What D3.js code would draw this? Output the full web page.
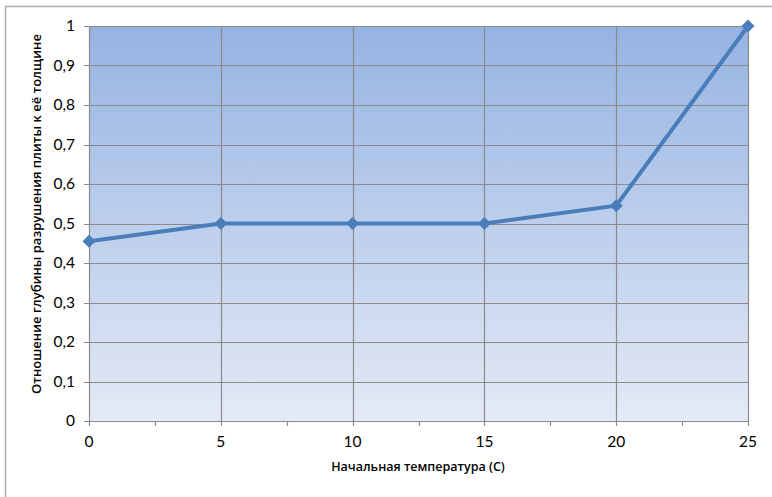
<!DOCTYPE html>
<html><head><meta charset="utf-8">
<script src="https://cdn.jsdelivr.net/npm/d3@7"></script>
<style>body{margin:0;background:#fff}</style>
</head><body>
<svg id="c" width="772" height="497"></svg>
<script>
const temps = [0, 5, 10, 15, 20, 25];
const ratios = [0.455, 0.5, 0.5, 0.5, 0.545, 1];
const yTicks = [0,0.1,0.2,0.3,0.4,0.5,0.6,0.7,0.8,0.9,1];
const xTicks = [0,5,10,15,20,25];
const xMinor = [2.5,7.5,12.5,17.5,22.5];
const xTitle = "Начальная температура (С)";
const yTitle = "Отношение глубины разрушения плиты к её толщине";

const svg = d3.select("#c");
const L=89,R=748,T=26,B=421;
const x = d3.scaleLinear().domain([0,25]).range([L,R]);
const y = d3.scaleLinear().domain([0,1]).range([B,T]);
const fmt = d => String(d).replace(".", ",");

svg.append("rect").attr("x",5.5).attr("y",6.5).attr("width",800).attr("height",800)
  .attr("fill","#fff").attr("stroke","#b0b0b0").attr("stroke-width",1.5);

const defs = svg.append("defs");
const g = defs.append("linearGradient").attr("id","bg").attr("x1",0).attr("y1",0).attr("x2",0).attr("y2",1);
g.append("stop").attr("offset","0%").attr("stop-color","#95b3e2");
g.append("stop").attr("offset","100%").attr("stop-color","#e4eaf6");
svg.append("rect").attr("x",L).attr("y",T).attr("width",R-L).attr("height",B-T).attr("fill","url(#bg)");

// grid
svg.append("g").selectAll("line").data(yTicks).join("line")
  .attr("x1",L-5).attr("x2",R).attr("y1",d=>Math.round(y(d))+0.5).attr("y2",d=>Math.round(y(d))+0.5)
  .attr("stroke","#8a8a8a").attr("stroke-width",1.2);
svg.append("g").selectAll("line").data(xTicks).join("line")
  .attr("y1",T).attr("y2",B+5).attr("x1",d=>Math.round(x(d))+0.5).attr("x2",d=>Math.round(x(d))+0.5)
  .attr("stroke","#8a8a8a").attr("stroke-width",1.2);
svg.append("g").selectAll("line").data(xMinor).join("line")
  .attr("y1",B).attr("y2",B+5).attr("x1",d=>Math.round(x(d))+0.5).attr("x2",d=>Math.round(x(d))+0.5)
  .attr("stroke","#8a8a8a").attr("stroke-width",1.2);

// tick labels
svg.append("g").selectAll("text").data(yTicks).join("text")
  .attr("x",75).attr("y",d=>y(d)).attr("dy","0.35em").attr("text-anchor","end")
  .attr("font-family","Lato, sans-serif").attr("font-size",15.5).attr("fill","#000").text(fmt);
svg.append("g").selectAll("text").data(xTicks).join("text")
  .attr("x",d=>x(d)).attr("y",447).attr("text-anchor","middle")
  .attr("font-family","Lato, sans-serif").attr("font-size",15.5).attr("fill","#000").text(fmt);

// titles
svg.append("text").attr("x",418).attr("y",471).attr("text-anchor","middle")
  .attr("font-family","'Open Sans', sans-serif").attr("font-weight",600).attr("font-size",12.5).text(xTitle);
svg.append("text").attr("transform","translate(41,214) rotate(-90)").attr("text-anchor","middle")
  .attr("font-family","'Open Sans', sans-serif").attr("font-weight",600).attr("font-size",13).text(yTitle);

// line
const data = temps.map((t,i)=>({t,v:ratios[i]}));
svg.append("path").datum(data)
  .attr("d", d3.line().x(d=>x(d.t)).y(d=>y(d.v)))
  .attr("fill","none").attr("stroke","#4a7ebb").attr("stroke-width",4);
svg.append("g").selectAll("path").data(data).join("path")
  .attr("d", d3.symbol(d3.symbolSquare, 85)())
  .attr("transform",d=>`translate(${x(d.t)},${y(d.v)}) rotate(45)`)
  .attr("fill","#4a7ebb");
</script>
</body></html>
